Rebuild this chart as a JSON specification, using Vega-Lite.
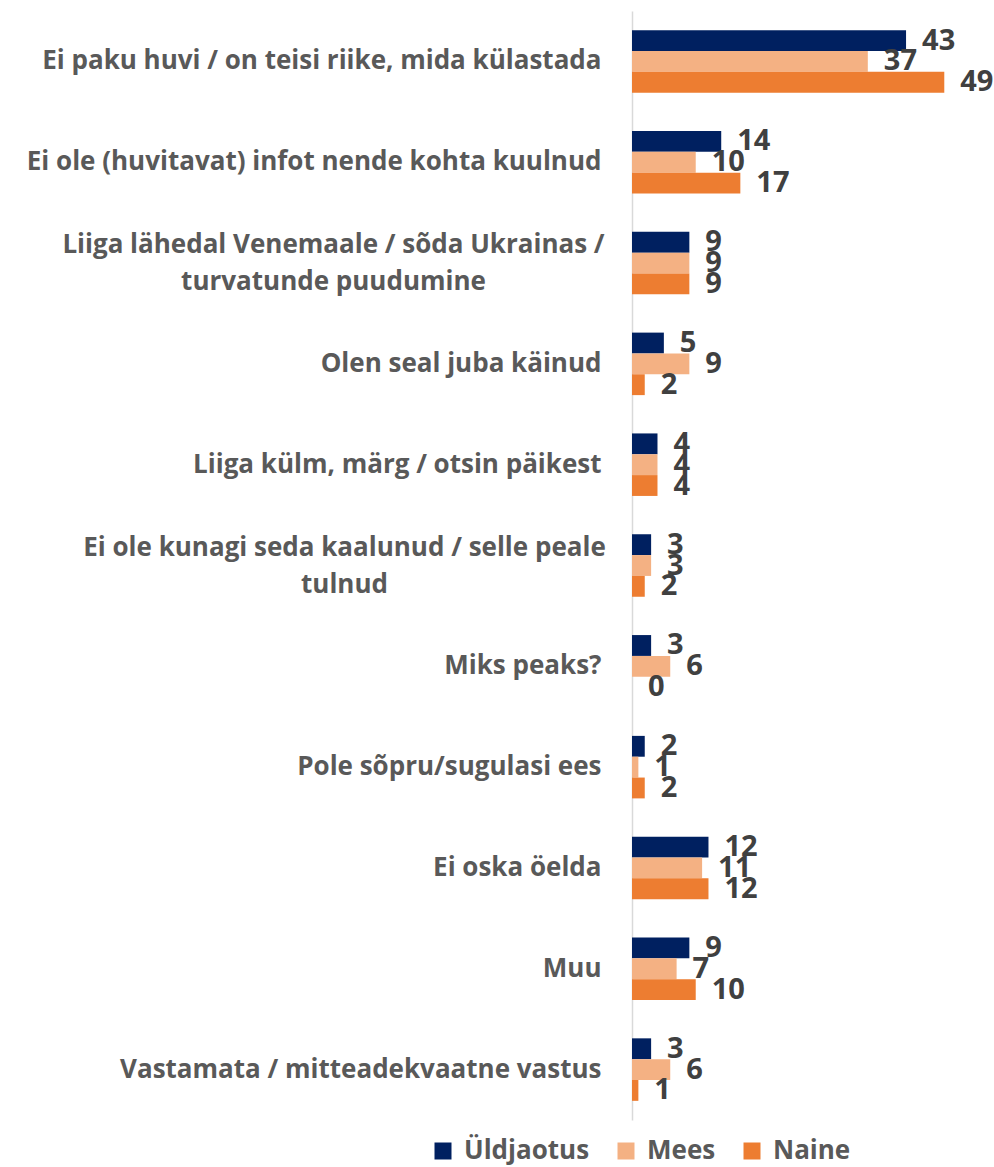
{
  "$schema": "https://vega.github.io/schema/vega-lite/v6.json",
  "autosize": {"type": "none"},
  "padding": {"left": 632, "top": 11, "right": 0, "bottom": 47},
  "width": 362,
  "height": 1109,
  "background": "white",
  "config": {"view": {"stroke": null}, "font": "Open Sans"},
  "data": {
    "values": [
      {"kategooria": "Ei paku huvi / on teisi riike, mida külastada", "grupp": "Üldjaotus", "vaartus": 43},
      {"kategooria": "Ei paku huvi / on teisi riike, mida külastada", "grupp": "Mees", "vaartus": 37},
      {"kategooria": "Ei paku huvi / on teisi riike, mida külastada", "grupp": "Naine", "vaartus": 49},
      {"kategooria": "Ei ole (huvitavat) infot nende kohta kuulnud", "grupp": "Üldjaotus", "vaartus": 14},
      {"kategooria": "Ei ole (huvitavat) infot nende kohta kuulnud", "grupp": "Mees", "vaartus": 10},
      {"kategooria": "Ei ole (huvitavat) infot nende kohta kuulnud", "grupp": "Naine", "vaartus": 17},
      {"kategooria": "Liiga lähedal Venemaale / sõda Ukrainas / turvatunde puudumine", "grupp": "Üldjaotus", "vaartus": 9},
      {"kategooria": "Liiga lähedal Venemaale / sõda Ukrainas / turvatunde puudumine", "grupp": "Mees", "vaartus": 9},
      {"kategooria": "Liiga lähedal Venemaale / sõda Ukrainas / turvatunde puudumine", "grupp": "Naine", "vaartus": 9},
      {"kategooria": "Olen seal juba käinud", "grupp": "Üldjaotus", "vaartus": 5},
      {"kategooria": "Olen seal juba käinud", "grupp": "Mees", "vaartus": 9},
      {"kategooria": "Olen seal juba käinud", "grupp": "Naine", "vaartus": 2},
      {"kategooria": "Liiga külm, märg / otsin päikest", "grupp": "Üldjaotus", "vaartus": 4},
      {"kategooria": "Liiga külm, märg / otsin päikest", "grupp": "Mees", "vaartus": 4},
      {"kategooria": "Liiga külm, märg / otsin päikest", "grupp": "Naine", "vaartus": 4},
      {"kategooria": "Ei ole kunagi seda kaalunud / selle peale tulnud", "grupp": "Üldjaotus", "vaartus": 3},
      {"kategooria": "Ei ole kunagi seda kaalunud / selle peale tulnud", "grupp": "Mees", "vaartus": 3},
      {"kategooria": "Ei ole kunagi seda kaalunud / selle peale tulnud", "grupp": "Naine", "vaartus": 2},
      {"kategooria": "Miks peaks?", "grupp": "Üldjaotus", "vaartus": 3},
      {"kategooria": "Miks peaks?", "grupp": "Mees", "vaartus": 6},
      {"kategooria": "Miks peaks?", "grupp": "Naine", "vaartus": 0},
      {"kategooria": "Pole sõpru/sugulasi ees", "grupp": "Üldjaotus", "vaartus": 2},
      {"kategooria": "Pole sõpru/sugulasi ees", "grupp": "Mees", "vaartus": 1},
      {"kategooria": "Pole sõpru/sugulasi ees", "grupp": "Naine", "vaartus": 2},
      {"kategooria": "Ei oska öelda", "grupp": "Üldjaotus", "vaartus": 12},
      {"kategooria": "Ei oska öelda", "grupp": "Mees", "vaartus": 11},
      {"kategooria": "Ei oska öelda", "grupp": "Naine", "vaartus": 12},
      {"kategooria": "Muu", "grupp": "Üldjaotus", "vaartus": 9},
      {"kategooria": "Muu", "grupp": "Mees", "vaartus": 7},
      {"kategooria": "Muu", "grupp": "Naine", "vaartus": 10},
      {"kategooria": "Vastamata / mitteadekvaatne vastus", "grupp": "Üldjaotus", "vaartus": 3},
      {"kategooria": "Vastamata / mitteadekvaatne vastus", "grupp": "Mees", "vaartus": 6},
      {"kategooria": "Vastamata / mitteadekvaatne vastus", "grupp": "Naine", "vaartus": 1}
    ]
  },
  "encoding": {
    "y": {
      "field": "kategooria",
      "type": "nominal",
      "sort": null,
      "scale": {"paddingInner": 0.38, "paddingOuter": 0.19},
      "axis": {
        "title": null,
        "orient": "left",
        "domain": true,
        "domainColor": "#D9D9D9",
        "domainWidth": 1.5,
        "ticks": false,
        "labelFontSize": 26,
        "labelFont": "Open Sans",
        "labelFontWeight": "bold",
        "labelColor": "#595959",
        "labelLimit": 0,
        "labelBaseline": "middle",
        "labelLineHeight": 37,
        "labelAlign": {"expr": "indexof(['Liiga lähedal Venemaale / sõda Ukrainas / turvatunde puudumine', 'Ei ole kunagi seda kaalunud / selle peale tulnud'], datum.value) >= 0 ? 'center' : 'right'"},
        "labelPadding": {"expr": "datum.value == 'Liiga lähedal Venemaale / sõda Ukrainas / turvatunde puudumine' ? 299 : datum.value == 'Ei ole kunagi seda kaalunud / selle peale tulnud' ? 288 : 31"},
        "labelOffset": {"expr": "indexof(['Liiga lähedal Venemaale / sõda Ukrainas / turvatunde puudumine', 'Ei ole kunagi seda kaalunud / selle peale tulnud'], datum.value) >= 0 ? -18 : 0"},
        "labelExpr": "datum.value == 'Liiga lähedal Venemaale / sõda Ukrainas / turvatunde puudumine' ? ['Liiga lähedal Venemaale / sõda Ukrainas /', 'turvatunde puudumine'] : datum.value == 'Ei ole kunagi seda kaalunud / selle peale tulnud' ? ['Ei ole kunagi seda kaalunud / selle peale', 'tulnud'] : datum.value"
      }
    },
    "yOffset": {
      "field": "grupp",
      "type": "nominal",
      "sort": ["Üldjaotus", "Mees", "Naine"],
      "scale": {"paddingInner": 0, "paddingOuter": 0}
    },
    "x": {
      "field": "vaartus",
      "type": "quantitative",
      "scale": {"domain": [0, 56.8], "nice": false},
      "axis": null
    }
  },
  "layer": [
    {
      "mark": {"type": "bar"},
      "encoding": {
        "color": {
          "field": "grupp",
          "type": "nominal",
          "sort": ["Üldjaotus", "Mees", "Naine"],
          "scale": {"domain": ["Üldjaotus", "Mees", "Naine"], "range": ["#002060", "#F4B183", "#ED7D31"]},
          "legend": {
            "title": null,
            "orient": "none",
            "legendX": -202,
            "legendY": 1127,
            "direction": "horizontal",
            "symbolType": "square",
            "symbolSize": 289,
            "symbolStrokeWidth": 0,
            "labelFontSize": 26,
            "labelFont": "Open Sans",
            "labelFontWeight": "bold",
            "labelColor": "#595959",
            "labelOffset": 8,
            "columnPadding": 23,
            "labelLimit": 0
          }
        }
      }
    },
    {
      "mark": {"type": "text", "align": "left", "baseline": "middle", "dx": 16, "fontSize": 29, "font": "Open Sans", "fontWeight": "bold", "color": "#404040"},
      "encoding": {"text": {"field": "vaartus", "type": "quantitative"}}
    }
  ]
}
